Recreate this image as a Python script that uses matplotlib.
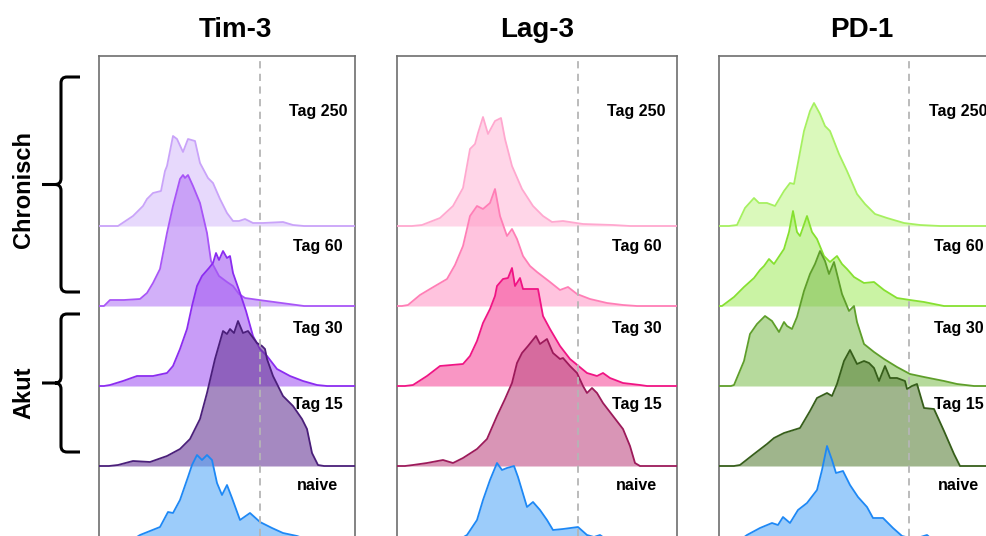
import numpy as np
import matplotlib
matplotlib.use("Agg")
import matplotlib.pyplot as plt
from matplotlib.path import Path
from matplotlib.patches import PathPatch

plt.rcParams['font.family'] = ['Liberation Sans', 'DejaVu Sans']

markers = ["Tim-3", "Lag-3", "PD-1"]
row_labels = ["Tag 250", "Tag 60", "Tag 30", "Tag 15", "naive"]
row_baselines = [4, 3, 2, 1, 0]
label_heights = [5.43, 3.74, 2.72, 1.77, 0.75]
gate_channel = [161, 181, 190]
channel_max = [256, 280, 280]
COUNTS_PER_ROW = 80.0

# histogram outlines: (channel, count)
tim3_d250 = [(19, 0), (34, 10), (44, 20), (48, 27), (54, 33), (62, 35), (66, 55), (68, 60), (74, 90), (78, 87),
             (84, 74), (89, 87), (96, 85), (101, 63), (109, 48), (114, 43), (121, 27), (128, 13), (134, 5),
             (140, 5), (146, 7), (154, 3), (164, 3), (184, 4), (194, 1), (205, 0)]
tim3_d60 = [(5, 0), (11, 6), (25, 6), (41, 7), (48, 13), (54, 23), (61, 37), (68, 73), (74, 100), (81, 127),
            (84, 131), (86, 128), (89, 131), (94, 120), (101, 103), (108, 73), (112, 45), (120, 30), (128, 24),
            (134, 20), (140, 12), (146, 8), (160, 6), (175, 4), (190, 2), (205, 0)]
tim3_d30 = [(5, 0), (11, 1), (24, 5), (38, 10), (54, 10), (68, 13), (74, 20), (81, 37), (88, 57), (93, 80),
            (98, 100), (103, 110), (110, 118), (114, 123), (117, 133), (120, 126), (124, 135), (128, 128),
            (131, 130), (134, 113), (141, 93), (147, 75), (154, 50), (161, 37), (168, 30), (178, 17), (191, 10),
            (204, 5), (218, 1), (228, 0)]
tim3_d15 = [(10, 0), (19, 1), (34, 5), (51, 4), (68, 10), (81, 17), (91, 27), (101, 47), (108, 73), (116, 107),
            (124, 135), (128, 132), (131, 137), (135, 133), (139, 145), (144, 133), (149, 135), (158, 123),
            (163, 120), (166, 117), (168, 107), (174, 90), (184, 70), (194, 60), (203, 47), (208, 37), (213, 13),
            (219, 1), (225, 0)]
tim3_naive = [(15, 0), (30, 4), (41, 11), (61, 19), (69, 34), (74, 33), (81, 46), (89, 69), (93, 81), (98, 91),
              (103, 86), (108, 91), (113, 86), (118, 63), (123, 51), (128, 61), (133, 48), (141, 26), (151, 33),
              (161, 24), (173, 18), (184, 13), (198, 10), (215, 4), (235, 1), (245, 0)]

lag3_d250 = [(15, 0), (25, 1), (43, 8), (56, 20), (66, 38), (73, 77), (78, 82), (81, 93), (86, 109), (91, 92),
             (98, 105), (104, 108), (108, 87), (115, 60), (125, 37), (136, 20), (146, 10), (155, 4), (166, 5),
             (186, 2), (216, 1), (233, 0)]
lag3_d60 = [(5, 0), (11, 1), (23, 11), (33, 17), (50, 27), (58, 41), (66, 60), (73, 90), (80, 100), (86, 97),
            (93, 103), (98, 117), (103, 90), (110, 70), (115, 77), (120, 67), (126, 50), (133, 40), (140, 34),
            (153, 24), (163, 16), (171, 19), (180, 12), (193, 7), (210, 3), (226, 1), (240, 0)]
lag3_d30 = [(8, 0), (16, 1), (30, 10), (43, 20), (66, 22), (73, 30), (80, 45), (86, 63), (93, 77), (98, 90),
            (100, 100), (106, 107), (111, 108), (115, 118), (118, 100), (123, 108), (126, 97), (136, 97),
            (141, 97), (146, 70), (153, 57), (163, 40), (173, 27), (190, 13), (200, 10), (206, 13), (213, 8),
            (226, 3), (243, 1), (250, 0)]
lag3_d15 = [(8, 0), (16, 1), (30, 3), (46, 6), (56, 3), (66, 8), (80, 17), (90, 27), (100, 50), (108, 67),
            (115, 83), (120, 103), (125, 113), (131, 120), (139, 130), (143, 122), (150, 127), (156, 113),
            (163, 107), (166, 108), (173, 100), (180, 93), (186, 80), (190, 73), (195, 78), (200, 73), (206, 63),
            (216, 50), (226, 37), (233, 20), (238, 3), (243, 0)]
lag3_naive = [(45, 0), (60, 5), (70, 11), (80, 26), (86, 46), (93, 66), (100, 83), (105, 76), (110, 78),
              (117, 80), (121, 69), (130, 39), (136, 44), (143, 36), (150, 26), (156, 16), (166, 17), (181, 19),
              (190, 11), (197, 9), (203, 11), (210, 6), (225, 2), (240, 0)]

pd1_d250 = [(10, 0), (18, 1), (26, 18), (35, 28), (40, 23), (48, 23), (56, 20), (65, 35), (71, 43), (75, 42),
            (85, 95), (91, 115), (95, 123), (101, 112), (106, 100), (111, 95), (120, 72), (128, 55), (138, 32),
            (146, 22), (156, 12), (168, 8), (185, 3), (201, 1), (221, 0)]
pd1_d60 = [(3, 0), (15, 9), (25, 19), (35, 28), (41, 36), (45, 40), (50, 47), (55, 42), (65, 57), (70, 74),
           (74, 95), (78, 74), (81, 70), (88, 90), (93, 74), (98, 67), (105, 50), (111, 44), (118, 50), (123, 42),
           (128, 37), (135, 29), (145, 23), (155, 24), (165, 16), (178, 8), (191, 6), (205, 4), (225, 0)]
pd1_d30 = [(12, 0), (15, 1), (25, 25), (31, 52), (38, 62), (46, 70), (53, 65), (60, 54), (65, 64), (68, 60),
           (73, 57), (78, 69), (85, 95), (91, 112), (96, 122), (101, 135), (106, 125), (110, 112), (115, 124),
           (118, 112), (123, 92), (130, 75), (135, 80), (138, 64), (145, 42), (155, 34), (165, 27), (178, 19),
           (191, 12), (205, 9), (225, 5), (238, 2), (255, 0)]
pd1_d15 = [(15, 0), (21, 1), (35, 12), (48, 22), (55, 28), (65, 33), (81, 38), (91, 55), (98, 68), (108, 73),
           (113, 70), (118, 82), (125, 105), (131, 116), (138, 102), (145, 105), (150, 103), (155, 98), (160, 85),
           (166, 100), (171, 88), (178, 88), (186, 85), (188, 77), (193, 80), (198, 82), (205, 58), (215, 57),
           (225, 35), (235, 12), (241, 0)]
pd1_naive = [(10, 0), (20, 5), (28, 11), (41, 18), (53, 23), (59, 21), (64, 29), (71, 23), (79, 36), (88, 43),
             (98, 56), (103, 76), (108, 100), (113, 86), (117, 73), (124, 75), (131, 61), (139, 49), (148, 39),
             (154, 28), (164, 28), (174, 18), (183, 10), (195, 7), (208, 11), (215, 5), (230, 1), (240, 0)]

hists = [[tim3_d250, tim3_d60, tim3_d30, tim3_d15, tim3_naive],
         [lag3_d250, lag3_d60, lag3_d30, lag3_d15, lag3_naive],
         [pd1_d250, pd1_d60, pd1_d30, pd1_d15, pd1_naive]]

line_colors = [['#c9a3f9', '#a855f7', '#8b2cf0', '#4a1f7a', '#1e88f5'],
               ['#ffa8cf', '#ff7eb6', '#f01484', '#9c1a5a', '#1e88f5'],
               ['#a6f060', '#86e030', '#5e9e2a', '#365e1a', '#1e88f5']]
fill_colors = [['#d8c0fb', '#b57cf5', '#a45af2', '#6a3b98', '#5aaaf8'],
               ['#ffbcda', '#ff9cc8', '#f5509e', '#c04f86', '#5aaaf8'],
               ['#c2f58f', '#a8ec68', '#86c25a', '#5f8540', '#5aaaf8']]

W, H = 987, 536
fig = plt.figure(figsize=(W / 100, H / 100), dpi=100)
panel_left = [99, 397, 719]
panel_top = 56
title_x = [235, 537, 862]

for i, marker in enumerate(markers):
    ax = fig.add_axes([panel_left[i] / W, 0, channel_max[i] / W, (H - panel_top) / H])
    ax.set_xlim(0, channel_max[i])
    ax.set_ylim(0.125, 6.125)
    ax.set_xticks([])
    ax.set_yticks([])
    for side in ['left', 'right', 'top']:
        ax.spines[side].set_color('#6e6e6e')
        ax.spines[side].set_linewidth(1.2)
    ax.spines['bottom'].set_visible(False)

    for j, curve in enumerate(hists[i]):
        pts = np.array(curve, dtype=float)
        x = np.concatenate([[0], pts[:, 0], [channel_max[i]]])
        y = row_baselines[j] + np.concatenate([[0], pts[:, 1], [0]]) / COUNTS_PER_ROW
        ax.fill_between(x, row_baselines[j], y, color=fill_colors[i][j], alpha=0.6, lw=0, zorder=2 + 2 * j)
        ax.plot(x, y, color=line_colors[i][j], lw=1.3, zorder=3 + 2 * j)
        ax.text(channel_max[i] * 0.855, label_heights[j], row_labels[j], ha='center', va='center',
                fontsize=11.5, fontweight='bold', zorder=20)

    ax.axvline(gate_channel[i], color='#b5b5b5', lw=1.3, ls=(0, (4, 3)), zorder=15)
    fig.text(title_x[i] / W, 1 - 30 / H, marker, ha='center', va='center', fontsize=20, fontweight='bold')

# group braces on the left
overlay = fig.add_axes([0, 0, 1, 1])
overlay.set_xlim(0, W)
overlay.set_ylim(H, 0)
overlay.axis('off')


def brace(ax, top, bottom, x_line=61, x_end=80, x_tip=42, r=6):
    mid = (top + bottom) / 2
    verts = [(x_end, top), (x_line + r, top), (x_line, top), (x_line, top + r),
             (x_line, mid - r), (x_line, mid), (x_line - r, mid), (x_tip, mid),
             (x_line - r, mid), (x_line, mid), (x_line, mid + r),
             (x_line, bottom - r), (x_line, bottom), (x_line + r, bottom), (x_end, bottom)]
    codes = [Path.MOVETO, Path.LINETO, Path.CURVE3, Path.CURVE3,
             Path.LINETO, Path.CURVE3, Path.CURVE3, Path.LINETO,
             Path.MOVETO, Path.CURVE3, Path.CURVE3,
             Path.LINETO, Path.CURVE3, Path.CURVE3, Path.LINETO]
    ax.add_patch(PathPatch(Path(verts, codes), fill=False, lw=2.2, color='black', capstyle='butt'))
    return mid


mid = brace(overlay, 77, 292)
overlay.text(24, 189, "Chronisch", rotation=90, ha='center', va='center', fontsize=17, fontweight='bold')
mid = brace(overlay, 314, 452)
overlay.text(24, 393, "Akut", rotation=90, ha='center', va='center', fontsize=17, fontweight='bold')

fig.savefig("out.png", dpi=100)
